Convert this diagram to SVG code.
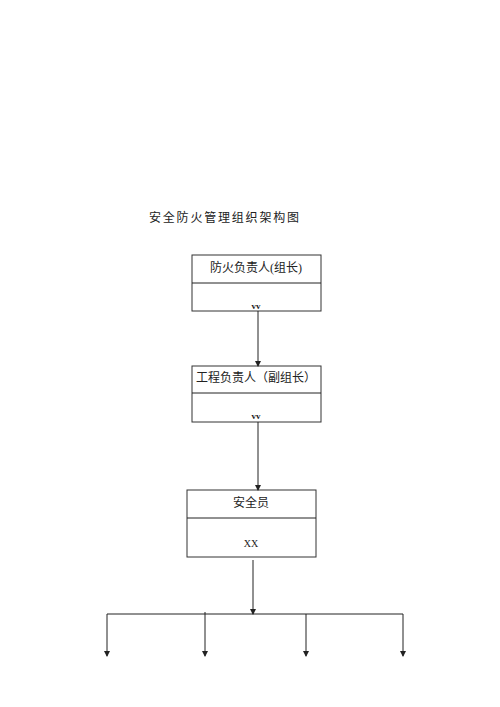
<svg xmlns="http://www.w3.org/2000/svg" width="500" height="707" viewBox="0 0 500 707">
<style>
.box{fill:#fff;stroke:#333;stroke-width:1}
.ln{stroke:#222;stroke-width:1;fill:none}
.t{font-family:"Liberation Serif","Noto Sans CJK SC",serif;font-size:12px;fill:#222;text-anchor:middle}
.sm{font-family:"Liberation Serif",serif;font-size:9px;fill:#222;text-anchor:middle;font-weight:bold}
.title{font-family:"Liberation Serif","Noto Sans CJK SC",serif;font-size:12px;fill:#222;letter-spacing:1.8px}
</style>
<defs>
<marker id="ah" markerWidth="6" markerHeight="6" refX="5" refY="3" orient="auto" markerUnits="userSpaceOnUse">
<path d="M0,0 L6,3 L0,6 Z" fill="#222"/>
</marker>
</defs>
<rect width="500" height="707" fill="#fff"/>
<text class="title" x="149" y="222">安全防火管理组织架构图</text>
<g id="node1">
<rect class="box" x="192" y="255" width="129" height="56"/>
<line class="ln" x1="192" y1="283" x2="321" y2="283"/>
<text class="t" x="256" y="272">防火负责人(组长)</text>
<text class="sm" x="256" y="309">vv</text>
</g>
<g id="node2">
<rect class="box" x="192" y="366" width="129" height="56"/>
<line class="ln" x1="192" y1="393" x2="321" y2="393"/>
<text class="t" x="256" y="382">工程负责人（副组长）</text>
<text class="sm" x="256" y="419">vv</text>
</g>
<g id="node3">
<rect class="box" x="187" y="490" width="129" height="67"/>
<line class="ln" x1="187" y1="518" x2="316" y2="518"/>
<text class="t" x="251" y="507">安全员</text>
<text class="t" x="251" y="547" style="font-size:10px">XX</text>
</g>
<g id="connectors">
<line class="ln" x1="258" y1="311" x2="258" y2="366" marker-end="url(#ah)"/>
<line class="ln" x1="258" y1="422" x2="258" y2="490" marker-end="url(#ah)"/>
<line class="ln" x1="253" y1="560" x2="253" y2="614" marker-end="url(#ah)"/>
<line class="ln" x1="107" y1="614" x2="403" y2="614"/>
<line class="ln" x1="107" y1="614" x2="107" y2="656" marker-end="url(#ah)"/>
<line class="ln" x1="205" y1="612" x2="205" y2="656" marker-end="url(#ah)"/>
<line class="ln" x1="306" y1="614" x2="306" y2="656" marker-end="url(#ah)"/>
<line class="ln" x1="403" y1="614" x2="403" y2="656" marker-end="url(#ah)"/>
</g>
</svg>
